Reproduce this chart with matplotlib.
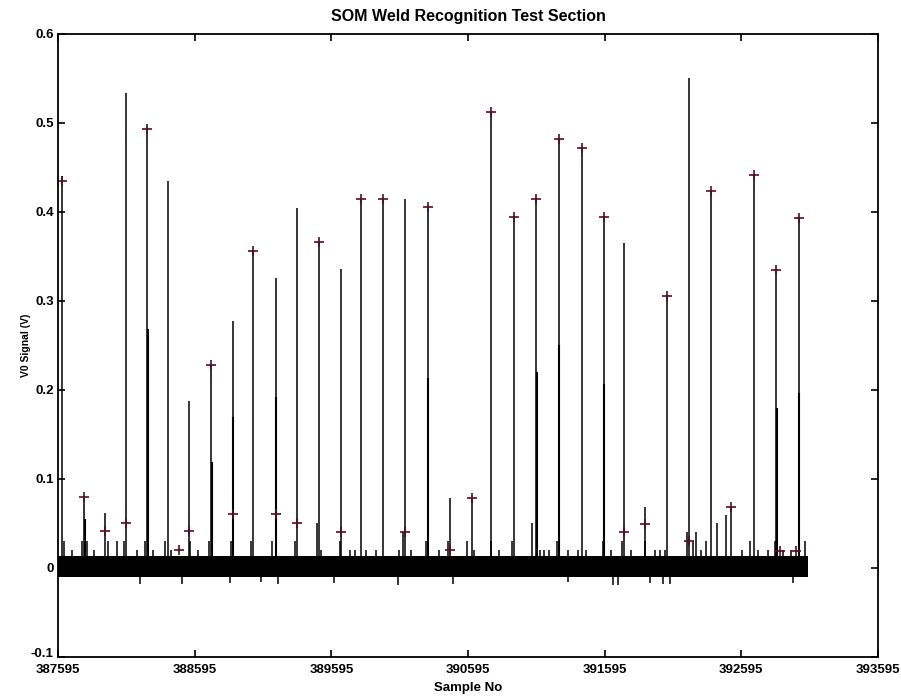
import numpy as np
import matplotlib
matplotlib.use('Agg')
import matplotlib.pyplot as plt
from matplotlib.transforms import ScaledTranslation

plt.rcParams['font.family'] = ['Liberation Sans', 'DejaVu Sans']
plt.rcParams['font.weight'] = 'bold'

# main spikes: sample no, peak value, lower (secondary) sample value
spike_x = [387626, 387788, 387939, 388093, 388247, 388398, 388554, 388717, 388874,
           389025, 389189, 389347, 389508, 389667, 389815, 389976, 390135, 390299,
           390460, 390621, 390765, 390931, 391096, 391260, 391429, 391587, 391736,
           391894, 392051, 392214, 392373, 392522, 392685, 392851, 393014]
spike_y = [0.440, 0.080, 0.062, 0.533, 0.495, 0.434, 0.188, 0.228, 0.277,
           0.356, 0.326, 0.404, 0.366, 0.336, 0.414, 0.414, 0.414, 0.405,
           0.079, 0.079, 0.512, 0.394, 0.414, 0.482, 0.472, 0.394, 0.365,
           0.069, 0.305, 0.550, 0.423, 0.069, 0.441, 0.334, 0.393]
second_y = [0.0, 0.055, 0.0, 0.0, 0.268, 0.0, 0.0, 0.119, 0.169,
            0.0, 0.192, 0.0, 0.0, 0.0, 0.0, 0.0, 0.0, 0.213,
            0.0, 0.0, 0.0, 0.0, 0.220, 0.250, 0.0, 0.207, 0.0,
            0.0, 0.0, 0.0, 0.0, 0.0, 0.0, 0.180, 0.196]

# recognised weld markers
mark_x = [387626, 387788, 387939, 388093, 388247, 388483, 388554, 388717, 388874,
          389025, 389189, 389347, 389508, 389667, 389815, 389976, 390135, 390299,
          390460, 390621, 390765, 390931, 391096, 391260, 391429, 391587, 391736,
          391894, 392051, 392214, 392373, 392522, 392685, 392851, 392881, 392998, 393014]
mark_y = [0.435, 0.080, 0.041, 0.050, 0.493, 0.020, 0.041, 0.228, 0.061,
          0.356, 0.061, 0.050, 0.366, 0.040, 0.414, 0.414, 0.040, 0.405,
          0.020, 0.079, 0.512, 0.394, 0.414, 0.482, 0.472, 0.394, 0.040,
          0.049, 0.305, 0.030, 0.423, 0.069, 0.441, 0.334, 0.019, 0.019, 0.393]

# baseline noise band and the bigger noise excursions
band_x = [387595, 393085]
band_lo = [-0.010, -0.010]
band_hi = [0.013, 0.013]
bump_x = [387640, 387700, 387770, 387810, 387860, 387960, 388030, 388080, 388170,
          388230, 388290, 388380, 388420, 388560, 388620, 388700, 388860, 389010,
          389160, 389330, 389490, 389520, 389660, 389730, 389770, 389850, 389920,
          390090, 390120, 390180, 390290, 390380, 390450, 390590, 390640, 390760,
          390820, 390920, 391060, 391120, 391150, 391190, 391250, 391330, 391400,
          391460, 391580, 391640, 391720, 391790, 391890, 391960, 392000, 392040,
          392200, 392240, 392260, 392300, 392340, 392420, 392480, 392600, 392660,
          392720, 392790, 392840, 392900, 392960, 393060]
bump_y = [0.030, 0.020, 0.030, 0.030, 0.020, 0.030, 0.030, 0.030, 0.020,
          0.030, 0.020, 0.030, 0.020, 0.030, 0.020, 0.030, 0.030, 0.030,
          0.030, 0.030, 0.050, 0.020, 0.030, 0.020, 0.020, 0.020, 0.020,
          0.020, 0.040, 0.020, 0.030, 0.020, 0.030, 0.030, 0.020, 0.030,
          0.020, 0.030, 0.050, 0.020, 0.020, 0.020, 0.030, 0.020, 0.020,
          0.020, 0.030, 0.020, 0.030, 0.020, 0.030, 0.020, 0.020, 0.020,
          0.040, 0.030, 0.040, 0.020, 0.030, 0.050, 0.060, 0.020, 0.030,
          0.020, 0.020, 0.030, 0.020, 0.020, 0.030]
dip_x = [388195, 388503, 388854, 389081, 389205, 389615, 390084, 390486,
         391328, 391657, 391694, 391929, 392024, 392075, 392975]
dip_y = [-0.018, -0.018, -0.017, -0.016, -0.018, -0.017, -0.019, -0.018,
         -0.016, -0.019, -0.019, -0.017, -0.018, -0.018, -0.017]

xticks = [387595, 388595, 389595, 390595, 391595, 392595, 393595]
yticks = [-0.1, 0, 0.1, 0.2, 0.3, 0.4, 0.5, 0.6]
ytick_labels = ['-0.1', '0', '0.1', '0.2', '0.3', '0.4', '0.5', '0.6']

fig = plt.figure(figsize=(9.01, 6.99), dpi=100)
ax = fig.add_axes([0.0644, 0.060, 0.910, 0.892])

ax.fill_between(band_x, band_lo, band_hi, color='k', linewidth=0)
ax.vlines(bump_x, 0, bump_y, color='k', linewidth=1.1)
ax.vlines(dip_x, -0.005, dip_y, color='k', linewidth=1.1)
ax.vlines(spike_x, 0, spike_y, color='k', linewidth=1.1)
sec_x = [x + 4 for x, s in zip(spike_x, second_y) if s > 0]
sec_y = [s for s in second_y if s > 0]
ax.vlines(sec_x, 0, sec_y, color='k', linewidth=1.5)
ax.plot(mark_x, mark_y, linestyle='none', marker='+', markersize=7,
        markeredgewidth=1.2, color='#5a0c1e')

ax.set_xlim(387595, 393595)
ax.set_ylim(-0.1, 0.6)
ax.set_xticks(xticks)
ax.set_xticklabels([str(t) for t in xticks])
ax.set_yticks(yticks)
ax.set_yticklabels(ytick_labels)
ax.tick_params(direction='in', top=True, right=True, length=5, width=1.2,
               labelsize=9.5)
ax.tick_params(axis='x', pad=5)
ax.tick_params(axis='y', pad=3)
for sp in ax.spines.values():
    sp.set_linewidth(1.3)

# lift the bottom y label a little so it sits clear of the first x label
lab = ax.get_yticklabels()[0]
lab.set_transform(lab.get_transform() + ScaledTranslation(0, 3 / 72, fig.dpi_scale_trans))

ax.set_title('SOM Weld Recognition Test Section', fontsize=11.5, fontweight='bold', pad=9)
ax.set_xlabel('Sample No', fontsize=9.5, fontweight='bold', labelpad=4)
ax.set_ylabel('V0 Signal (V)', fontsize=7.5, fontweight='bold', labelpad=0)

fig.savefig('out.png', dpi=100)
